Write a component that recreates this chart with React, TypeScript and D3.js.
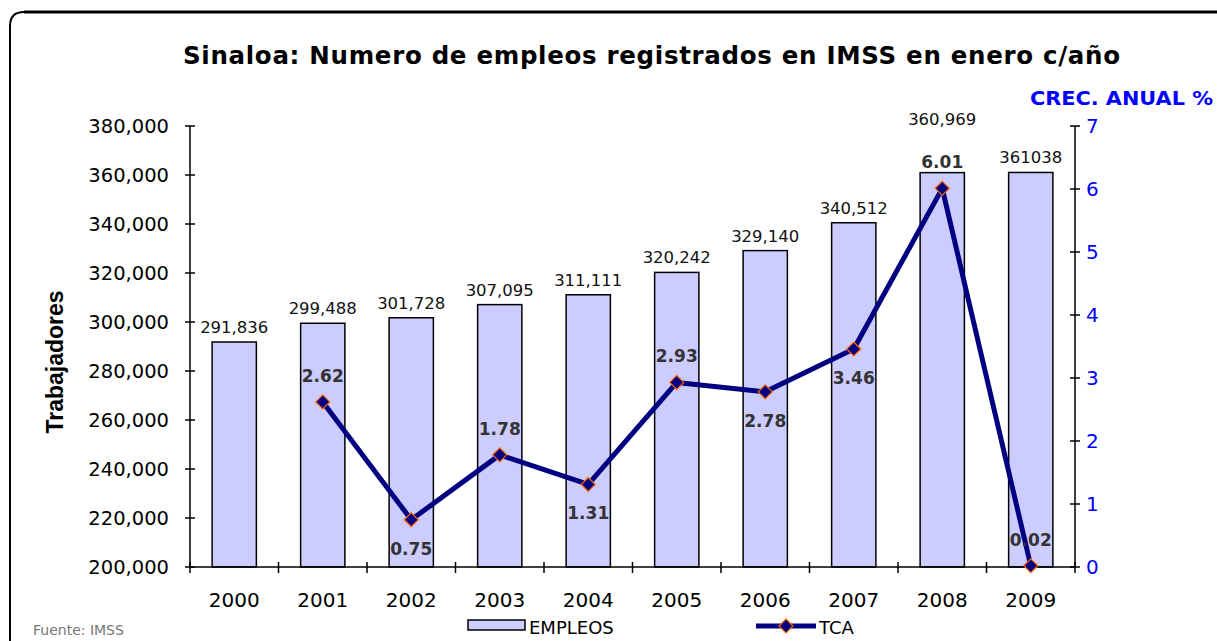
import React from "react";
import * as d3 from "d3";

const years = ["2000","2001","2002","2003","2004","2005","2006","2007","2008","2009"];
const empleos = [291836, 299488, 301728, 307095, 311111, 320242, 329140, 340512, 360969, 361038];
const empleosLabels = ["291,836","299,488","301,728","307,095","311,111","320,242","329,140","340,512","360,969","361038"];
const tca: (number | null)[] = [null, 2.62, 0.75, 1.78, 1.31, 2.93, 2.78, 3.46, 6.01, 0.02];
const tcaLabels = ["", "2.62", "0.75", "1.78", "1.31", "2.93", "2.78", "3.46", "6.01", "0.02"];
const tcaLabelPos = ["", "above", "below", "above", "below", "above", "below", "below", "above", "above"];
const leftTicks = [200000, 220000, 240000, 260000, 280000, 300000, 320000, 340000, 360000, 380000];
const rightTicks = [0, 1, 2, 3, 4, 5, 6, 7];

const W = 1217, H = 641;
const L = 190, R = 1075, T = 126, B = 567;

export default function App() {
  const x = d3.scaleBand<string>().domain(years).range([L, R]).paddingInner(0.5).paddingOuter(0.25);
  const yL = d3.scaleLinear().domain([200000, 380000]).range([B, T]);
  const yR = d3.scaleLinear().domain([0, 7]).range([B, T]);
  const step = x.step();
  const bw = x.bandwidth();
  const cx = (y: string) => (x(y) as number) + bw / 2;

  const pts = years.map((y, i) => ({ y, v: tca[i], i })).filter(d => d.v !== null) as { y: string; v: number; i: number }[];
  const line = d3.line<{ y: string; v: number }>().x(d => cx(d.y)).y(d => yR(d.v));

  const diamond = (px: number, py: number, r = 7) => `M${px},${py - r}L${px + r},${py}L${px},${py + r}L${px - r},${py}Z`;
  const num = "DejaVu Sans, Verdana, sans-serif";

  return (
    <svg width={W} height={H} style={{ position: "absolute", left: 0, top: 0, background: "#fff" }}>
      <rect x={0} y={0} width={W} height={H} fill="#fff" />
      {/* border */}
      <path d={`M10,${H + 5} L10,26 Q10,12 24,12 L${W + 5},12`} fill="none" stroke="#000" strokeWidth={2} />
      <line x1={24} y1={12} x2={W + 5} y2={12} stroke="#000" strokeWidth={3} />

      {/* title */}
      <text x={183} y={64} textLength={937} lengthAdjust="spacing" fontFamily={num} fontWeight="bold" fontSize={24.5} fill="#000">
        Sinaloa: Numero de empleos registrados en IMSS en enero c/año
      </text>

      {/* bars */}
      {years.map((y, i) => (
        <rect key={y} x={x(y)} y={yL(empleos[i])} width={bw} height={B - yL(empleos[i])} fill="#CCCCFF" stroke="#000" strokeWidth={1.5} />
      ))}
      {years.map((y, i) => (
        <text key={"bl" + y} x={cx(y)} y={yL(empleos[i]) - (i === 8 ? 48 : 9)} textAnchor="middle" fontFamily={num} fontSize={16.5} fill="#111">
          {empleosLabels[i]}
        </text>
      ))}

      {/* left axis */}
      <line x1={L} y1={T} x2={L} y2={B} stroke="#000" strokeWidth={1.5} />
      {leftTicks.map(t => (
        <g key={t}>
          <line x1={L - 5} x2={L + 5} y1={yL(t)} y2={yL(t)} stroke="#000" strokeWidth={1.5} />
          <text x={169} y={yL(t) + 7} textAnchor="end" fontFamily={num} fontSize={19.5} fill="#000">{d3.format(",")(t)}</text>
        </g>
      ))}

      {/* right axis */}
      <line x1={R} y1={T} x2={R} y2={B} stroke="#000" strokeWidth={1.5} />
      {rightTicks.map(t => (
        <g key={"r" + t}>
          <line x1={R - 5} x2={R + 5} y1={yR(t)} y2={yR(t)} stroke="#000" strokeWidth={1.5} />
          <text x={1086} y={yR(t) + 7} textAnchor="start" fontFamily={num} fontSize={20} fill="#0000FF">{t}</text>
        </g>
      ))}
      <text x={1030} y={105} textLength={183} lengthAdjust="spacingAndGlyphs" fontFamily={num} fontWeight="bold" fontSize={19} fill="#0000FF">CREC. ANUAL %</text>

      {/* x axis */}
      <line x1={L} y1={B} x2={R} y2={B} stroke="#000" strokeWidth={1.5} />
      {d3.range(years.length + 1).map(k => (
        <line key={"xt" + k} x1={L + k * step} x2={L + k * step} y1={B - 5} y2={B + 6} stroke="#000" strokeWidth={1.5} />
      ))}
      {years.map(y => (
        <text key={"xl" + y} x={cx(y)} y={607} textAnchor="middle" fontFamily={num} fontSize={20} fill="#000">{y}</text>
      ))}

      {/* y axis title */}
      <text transform="translate(63,362) rotate(-90)" textAnchor="middle" fontFamily="Liberation Sans, Arial, sans-serif" fontWeight="bold" fontSize={23} fill="#000">Trabajadores</text>

      {/* line */}
      <path d={line(pts) || ""} fill="none" stroke="#000080" strokeWidth={5} strokeLinejoin="round" />
      {pts.map(d => (
        <path key={"m" + d.y} d={diamond(cx(d.y), yR(d.v))} fill="#000080" stroke="#FF6600" strokeWidth={1.2} />
      ))}
      {pts.map(d => (
        <text key={"tl" + d.y} x={cx(d.y)} y={yR(d.v) + (tcaLabelPos[d.i] === "above" ? -20 : 35)} textAnchor="middle" fontFamily={num} fontWeight="bold" fontSize={17} fill="#333">
          {tcaLabels[d.i]}
        </text>
      ))}

      {/* legend */}
      <rect x={468} y={620} width={57} height={10} fill="#CCCCFF" stroke="#000" strokeWidth={1.5} />
      <text x={529} y={634} fontFamily={num} fontSize={18} fill="#000">EMPLEOS</text>
      <line x1={756} x2={816} y1={626} y2={626} stroke="#000080" strokeWidth={5} />
      <path d={diamond(786, 626)} fill="#000080" stroke="#FF6600" strokeWidth={1.2} />
      <text x={819} y={634} fontFamily={num} fontSize={18} fill="#000">TCA</text>

      {/* source */}
      <text x={33} y={635} fontFamily={num} fontSize={14} fill="#777">Fuente: IMSS</text>
    </svg>
  );
}
